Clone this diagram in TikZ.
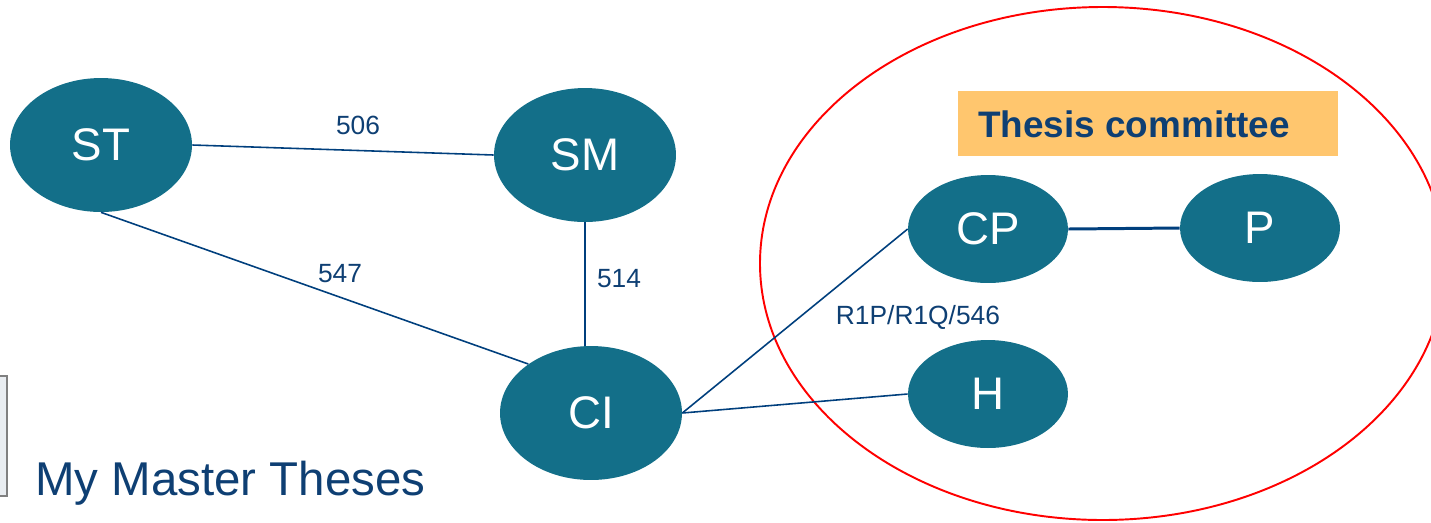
\documentclass[tikz,border=0pt]{standalone}
\usepackage{fontspec}
\setmainfont{Liberation Sans}
\usetikzlibrary{shapes.geometric}
\definecolor{nodeteal}{RGB}{19,111,137}
\definecolor{linkblue}{RGB}{0,63,125}
\definecolor{labelblue}{RGB}{14,63,115}
\definecolor{boxorange}{RGB}{255,198,110}
\definecolor{panelgray}{RGB}{233,237,241}

\begin{document}
\begin{tikzpicture}[x=0.02cm, y=-0.02cm,
  bignode/.style={ellipse, fill=nodeteal, text=white, inner sep=0pt,
    minimum width=3.64cm, minimum height=2.68cm, font=\fontsize{26}{26}\selectfont},
  smallnode/.style={bignode, minimum width=3.2cm, minimum height=2.16cm},
  link/.style={draw=linkblue, line width=0.9pt},
  thicklink/.style={link, line width=1.7pt},
  lbl/.style={text=labelblue, anchor=base, inner sep=0pt, font=\fontsize{15}{15}\selectfont}]
\useasboundingbox (0,0) rectangle (1431,522);

% committee ring and side panel
\draw[red, line width=1.1pt] (1102.7,263.5) ellipse [x radius=342.7, y radius=256.5];
\draw[draw=gray, fill=panelgray, line width=0.9pt] (-20,376) rectangle (7,496);

\node[fill=boxorange, minimum width=7.6cm, minimum height=1.3cm, inner sep=0pt] (tcbox) at (1148,123.5) {};
\node[anchor=base west, inner sep=0pt, text=labelblue, font=\fontsize{21}{21}\selectfont\bfseries] (tctext) at (978,137) {Thesis committee};

\node[bignode] (ST) at (101,145) {ST};
\node[bignode] (SM) at (585,155) {SM};
\node[bignode] (CI) at (591,413) {CI};
\node[smallnode] (CP) at (988,229) {CP};
\node[smallnode] (P) at (1260,228) {P};
\node[smallnode] (H) at (988,394) {H};

\draw[link] (ST.east) -- (SM.west);
\draw[link] (ST.south) -- (CI.142);
\draw[thicklink] (SM.south) -- (CI.north -| SM.south);
\draw[link] (CI.east) -- (CP.west);
\draw[link] (CI.east) -- (H.west);
\draw[thicklink] (CP.east) -- (P.west);

\node[lbl] (l506) at (358,134) {506};
\node[lbl] (l547) at (340,282) {547};
\node[lbl] (l514) at (619,287) {514};
\node[lbl] (lcp) at (918,324) {R1P/R1Q/546};

%\node at (200,200) {};
\node[anchor=base west, inner sep=0pt, text=labelblue, font=\fontsize{27}{27}\selectfont] (title) at (35,495) {My Master Theses};
\end{tikzpicture}
\end{document}
